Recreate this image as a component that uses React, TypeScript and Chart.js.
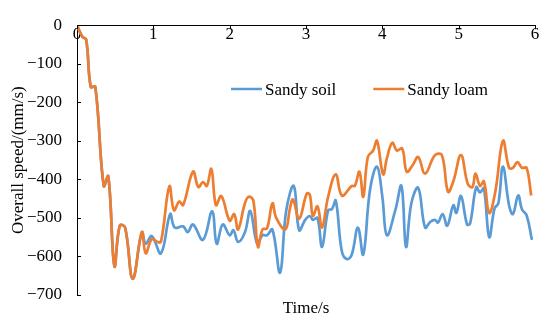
import React, { useEffect, useRef } from "react";
import { Chart, registerables } from "chart.js";

Chart.register(...registerables);

// Shared start (both series coincide)
const commonTime = [0, 0.07, 0.12, 0.18, 0.24, 0.35, 0.41, 0.49, 0.56, 0.63, 0.73, 0.85];
const commonSpeed = [0, -30, -37, -160, -160, -417, -392, -625, -520, -525, -658, -537];

// Sandy soil (blue)
const soilTime = [
  0.9, 0.98, 1.1, 1.22, 1.28, 1.39, 1.45, 1.52, 1.65, 1.77, 1.83, 1.91, 2.0, 2.05, 2.11, 2.2, 2.27,
  2.36, 2.43, 2.49, 2.56, 2.66, 2.74, 2.84, 2.91, 2.99, 3.05, 3.09, 3.15, 3.21, 3.29, 3.34, 3.39,
  3.47, 3.54, 3.6, 3.68, 3.75, 3.84, 3.93, 4.0, 4.06, 4.17, 4.25, 4.31, 4.38, 4.47, 4.56, 4.63,
  4.69, 4.73, 4.79, 4.85, 4.93, 4.97, 5.03, 5.11, 5.15, 5.23, 5.28, 5.33, 5.4, 5.47, 5.52, 5.58,
  5.66, 5.71, 5.78, 5.83, 5.89, 5.96,
];
const soilSpeed = [
  -567, -547, -592, -490, -525, -522, -537, -517, -557, -483, -567, -517, -545, -532, -562, -537, -482,
  -567, -545, -545, -530, -642, -482, -417, -532, -505, -495, -505, -500, -575, -480, -477, -455,
  -587, -607, -595, -525, -595, -425, -367, -445, -545, -480, -417, -575, -462, -422, -525, -510,
  -505, -512, -490, -520, -467, -487, -443, -517, -514, -420, -434, -423, -550, -475, -462, -367,
  -467, -490, -442, -478, -493, -557,
];

// Sandy loam (orange)
const loamTime = [
  0.9, 0.98, 1.05, 1.1, 1.21, 1.27, 1.34, 1.39, 1.52, 1.59, 1.65, 1.7, 1.76, 1.82, 1.89, 2.0, 2.06,
  2.11, 2.2, 2.25, 2.31, 2.37, 2.43, 2.49, 2.56, 2.61, 2.73, 2.79, 2.83, 2.91, 3.01, 3.05, 3.09,
  3.15, 3.21, 3.29, 3.39, 3.47, 3.6, 3.64, 3.7, 3.75, 3.81, 3.88, 3.93, 4.01, 4.06, 4.13, 4.19,
  4.26, 4.32, 4.4, 4.47, 4.56, 4.69, 4.78, 4.86, 4.93, 5.03, 5.12, 5.18, 5.22, 5.28, 5.33, 5.4,
  5.48, 5.58, 5.66, 5.71, 5.77, 5.83, 5.89, 5.95,
];
const loamSpeed = [
  -592, -555, -562, -562, -418, -480, -457, -467, -380, -420, -407, -417, -373, -467, -443, -507, -490,
  -530, -462, -445, -455, -575, -530, -527, -462, -500, -530, -475, -452, -502, -437, -440, -495,
  -470, -525, -445, -387, -442, -417, -417, -380, -445, -342, -325, -300, -387, -345, -305, -325,
  -320, -380, -362, -342, -385, -337, -337, -432, -405, -337, -412, -420, -385, -417, -405, -487,
  -432, -300, -370, -370, -355, -370, -370, -442,
];

const seriesNames = ["Sandy soil", "Sandy loam"];
const seriesColors = ["#5B9BD5", "#ED7D31"];
const xMin = 0;
const xMax = 6;
const xStep = 1;
const yMin = -700;
const yMax = 0;
const yStep = 100;
const xTitle = "Time/s";
const yTitle = "Overall speed/(mm/s)";

const FONT = "'Liberation Serif', 'Times New Roman', serif";

const toPoints = (t: number[], v: number[]) => t.map((x, i) => ({ x, y: v[i] }));

const decorPlugin = {
  id: "decor",
  afterDraw(chart: any) {
    const { ctx, chartArea, scales } = chart;
    const xs = scales.x;
    const ys = scales.y;
    ctx.save();
    ctx.strokeStyle = "#000";
    ctx.lineWidth = 1;
    ctx.beginPath();
    ys.ticks.forEach((t: any) => {
      const py = Math.round(ys.getPixelForValue(t.value)) + 0.5;
      ctx.moveTo(chartArea.left, py);
      ctx.lineTo(chartArea.left + 4, py);
    });
    const y0 = ys.getPixelForValue(0);
    xs.ticks.forEach((t: any) => {
      const px = Math.round(xs.getPixelForValue(t.value)) + 0.5;
      ctx.moveTo(px, y0);
      ctx.lineTo(px, y0 + 4);
    });
    ctx.stroke();

    ctx.fillStyle = "#000";
    ctx.font = `17px ${FONT}`;
    ctx.textAlign = "center";
    ctx.textBaseline = "alphabetic";
    ctx.fillText(xTitle, (chartArea.left + chartArea.right) / 2, chartArea.bottom + 18);

    // legend
    let lx = 231;
    const ly = 89;
    ctx.textAlign = "left";
    chart.data.datasets.forEach((ds: any) => {
      ctx.strokeStyle = ds.borderColor;
      ctx.lineWidth = 2.5;
      ctx.beginPath();
      ctx.moveTo(lx, ly);
      ctx.lineTo(lx + 31, ly);
      ctx.stroke();
      ctx.fillStyle = "#000";
      ctx.fillText(ds.label, lx + 34, ly + 5.5);
      lx = lx + 34 + ctx.measureText(ds.label).width + 37;
    });
    ctx.restore();
  },
};

export default function App() {
  const ref = useRef<HTMLCanvasElement | null>(null);
  useEffect(() => {
    if (!ref.current) return;
    const chart = new Chart(ref.current, {
      type: "line",
      data: {
        datasets: [
          {
            label: seriesNames[0],
            data: toPoints(commonTime.concat(soilTime), commonSpeed.concat(soilSpeed)),
            borderColor: seriesColors[0],
            backgroundColor: seriesColors[0],
            borderWidth: 2.7,
            pointRadius: 0,
            tension: 0.4,
            order: 1,
          },
          {
            label: seriesNames[1],
            data: toPoints(commonTime.concat(loamTime), commonSpeed.concat(loamSpeed)),
            borderColor: seriesColors[1],
            backgroundColor: seriesColors[1],
            borderWidth: 2.7,
            pointRadius: 0,
            tension: 0.4,
            order: 0,
          },
        ],
      },
      options: {
        animation: false,
        responsive: true,
        maintainAspectRatio: false,
        layout: { padding: { top: 15, right: 15, bottom: 28, left: 0 } },
        plugins: { legend: { display: false }, tooltip: { enabled: false } },
        scales: {
          x: {
            type: "linear",
            position: { y: 0 } as any,
            min: xMin,
            max: xMax,
            grid: { display: false, drawTicks: false },
            border: { display: true, color: "#000", width: 1 },
            ticks: {
              stepSize: xStep,
              padding: -1,
              color: "#000",
              font: { family: FONT, size: 17 },
              maxRotation: 0,
            },
          },
          y: {
            type: "linear",
            position: "left",
            min: yMin,
            max: yMax,
            grid: { display: false, drawTicks: false },
            border: { display: true, color: "#000", width: 1 },
            ticks: {
              stepSize: yStep,
              padding: 15,
              color: "#000",
              font: { family: FONT, size: 17 },
              callback: (v: any) => (Number(v) < 0 ? "\u2212" + Math.abs(Number(v)) : String(v)),
            },
            title: {
              display: true,
              text: yTitle,
              color: "#000",
              font: { family: FONT, size: 17 },
              padding: { top: 8, bottom: 0 },
            },
            afterFit: (scale: any) => {
              scale.width = 77;
            },
          },
        },
      },
      plugins: [decorPlugin],
    });
    return () => chart.destroy();
  }, []);
  return (
    <div style={{ position: "absolute", left: 0, top: 0, width: 550, height: 323 }}>
      <canvas ref={ref} />
    </div>
  );
}
